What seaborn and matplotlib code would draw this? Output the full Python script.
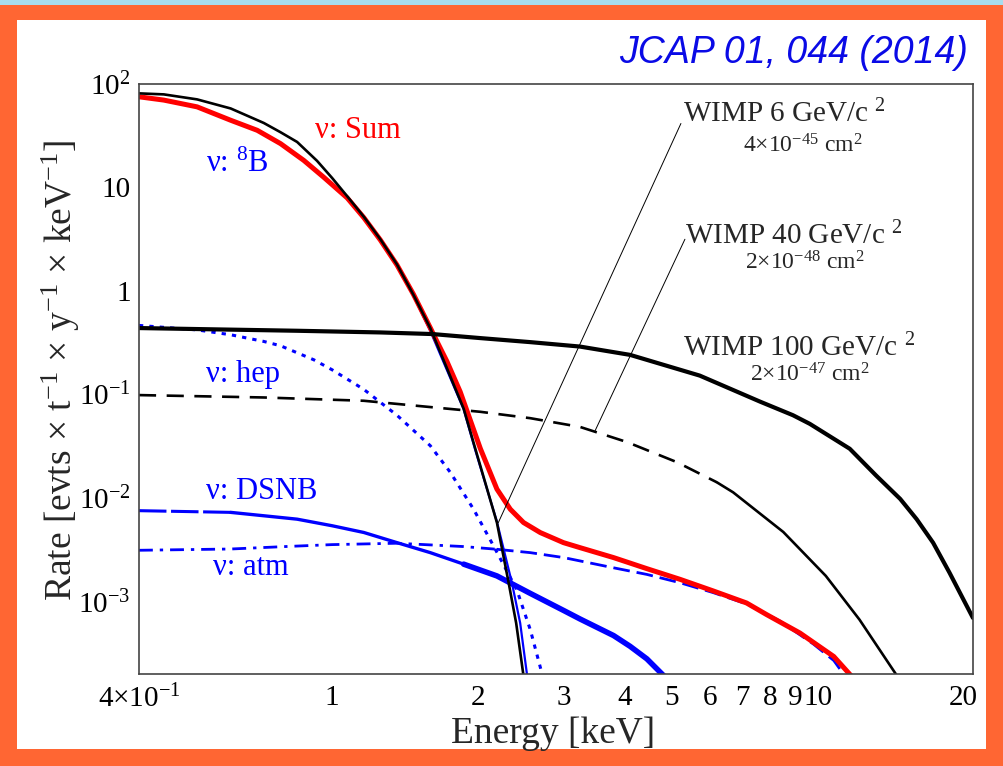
import numpy as np
import pandas as pd
import seaborn as sns
import matplotlib.pyplot as plt
from matplotlib.patches import Rectangle
from matplotlib.ticker import FixedLocator, FixedFormatter, LogLocator, NullFormatter, FuncFormatter

# recoil energy [keV] / rate [evts/t/y/keV]
sum_E = [0.40, 0.45, 0.527, 0.618, 0.701, 0.783, 0.874, 0.961, 1.074, 1.162, 1.257, 1.36, 1.47, 1.593, 1.644,
         1.724, 1.836, 2.02, 2.185, 2.328, 2.479, 2.684, 2.996, 3.24, 3.80, 4.45, 5.21, 6.09, 7.14, 7.85, 9.2,
         10.8, 11.8]
sum_R = [74.8, 69.5, 59.8, 44.4, 35.5, 26.4, 18.2, 12.5, 7.9, 5.1, 3.1, 1.78, 0.93, 0.44, 0.325,
         0.208, 0.106, 0.030, 0.0122, 7.8e-3, 5.8e-3, 4.64e-3, 3.71e-3, 3.32e-3, 2.66e-3, 2.08e-3, 1.64e-3,
         1.27e-3, 9.7e-4, 7.5e-4, 4.97e-4, 2.95e-4, 1.86e-4]

b8_E = [0.40, 0.45, 0.527, 0.618, 0.701, 0.783, 0.874, 0.961, 1.074, 1.162, 1.257, 1.36, 1.47, 1.593, 1.866,
        1.972, 2.185, 2.346, 2.44, 2.523]
b8_R = [74.3, 69.0, 59.4, 44.0, 35.2, 26.1, 18.0, 12.3, 7.8, 5.0, 3.05, 1.75, 0.90, 0.41, 0.072,
        0.029, 5.9e-3, 1.52e-3, 6.2e-4, 1.9e-4]

hep_E = [0.40, 0.527, 0.618, 0.723, 0.783, 0.917, 1.0, 1.162, 1.36, 1.593, 1.75, 1.956, 2.15, 2.40, 2.56, 2.70]
hep_R = [0.464, 0.42, 0.377, 0.325, 0.295, 0.216, 0.173, 0.112, 0.063, 0.032, 0.0178, 7.8e-3, 3.45e-3,
         1.31e-3, 5.35e-4, 2.1e-4]

dsnb_E = [0.40, 0.618, 0.847, 1.0, 1.162, 1.36, 1.593, 1.866, 2.185, 2.56, 3.0, 3.24, 3.80, 4.11, 4.45, 4.89]
dsnb_R = [7.55e-3, 7.27e-3, 6.25e-3, 5.4e-3, 4.65e-3, 3.71e-3, 2.97e-3, 2.3e-3, 1.77e-3, 1.2e-3, 8.2e-4,
          6.8e-4, 4.7e-4, 3.7e-4, 2.8e-4, 1.8e-4]

atm_E = [0.40, 0.618, 0.80, 1.0, 1.36, 1.866, 2.185, 2.56, 3.0, 3.80, 4.45, 5.21, 6.1, 7.14, 8.36, 9.8, 10.8, 11.7]
atm_R = [3.13e-3, 3.22e-3, 3.4e-3, 3.55e-3, 3.66e-3, 3.4e-3, 3.2e-3, 2.97e-3, 2.66e-3, 2.12e-3, 1.83e-3,
         1.52e-3, 1.22e-3, 9.5e-4, 6.5e-4, 3.9e-4, 2.7e-4, 1.6e-4]

w6_E = [0.40, 0.45, 0.527, 0.618, 0.723, 0.783, 0.847, 0.931, 1.0, 1.074, 1.162, 1.257, 1.36, 1.47, 1.593,
        1.866, 1.972, 2.185, 2.31, 2.394, 2.48]
w6_R = [80.7, 78.9, 70.6, 57.7, 41.8, 34.0, 27.4, 18.0, 12.3, 8.2, 5.2, 3.15, 1.80, 0.92, 0.437,
        0.073, 0.030, 5.8e-3, 1.52e-3, 6.2e-4, 1.89e-4]

w40_E = [0.40, 0.723, 1.162, 2.02, 2.56, 3.24, 4.05, 5.13, 6.2, 6.7, 8.5, 10.4, 12.2, 14.6]
w40_R = [0.0986, 0.0935, 0.0869, 0.068, 0.059, 0.0486, 0.0347, 0.0222, 0.0142, 0.01135, 4.7e-3, 1.77e-3,
         6.7e-4, 1.9e-4]
w40_dash_end = 8  # index where the dashed part turns solid

w100_E = [0.40, 0.847, 1.257, 1.61, 2.02, 2.56, 3.24, 4.11, 5.72, 7.61, 8.9, 9.64, 11.65, 13.2, 14.8, 16.0,
          17.3, 18.7, 20.9]
w100_R = [0.4375, 0.412, 0.397, 0.383, 0.35, 0.32, 0.29, 0.241, 0.152, 0.0853, 0.063, 0.052, 0.0299, 0.0165,
          9.8e-3, 6.25e-3, 3.7e-3, 1.9e-3, 6.95e-4]

# leader lines: (label end, point on curve)
lead6 = ([5.23, 2.20], [41.3, 5.8e-3])
lead40 = ([5.33, 3.48], [3.15, 0.0445])

x_ticks = [0.4, 1, 2, 3, 4, 5, 6, 7, 8, 9, 10, 20]
x_labels = ['$4{\\times}10^{-1}$', '1', '2', '3', '4', '5', '6', '7', '8', '9', '10', '20']
y_ticks = [1e-3, 1e-2, 1e-1, 1, 10, 100]
y_labels = ['$10^{-3}$', '$10^{-2}$', '$10^{-1}$', '1', '10', '$10^{2}$']

RED = '#FF0000'
BLUE = '#0000FF'

sns.set_style('white')
plt.rcParams['font.family'] = ['Liberation Serif', 'DejaVu Serif']
plt.rcParams['mathtext.default'] = 'regular'

fig = plt.figure(figsize=(10.04, 7.66), dpi=100, facecolor='#FF6633')
# white slide area and the blue strip above the frame
fig.patches.append(Rectangle((0.017, 0.022), 0.965, 0.952, transform=fig.transFigure,
                             facecolor='white', edgecolor='none', zorder=-5))
fig.patches.append(Rectangle((0, 0.994), 1, 0.006, transform=fig.transFigure,
                             facecolor='#A8DCEE', edgecolor='none', zorder=-5))

ax = fig.add_axes([0.1384, 0.1201, 0.8307, 0.7706])
ax.set_facecolor('white')

kw = dict(ax=ax, sort=False, estimator=None, legend=False)
# neutrino backgrounds
sns.lineplot(x=b8_E, y=b8_R, color=BLUE, linewidth=1.6, **kw)
sns.lineplot(x=hep_E, y=hep_R, color=BLUE, linewidth=2.2, linestyle=(0, (1.4, 2.0)), **kw)
sns.lineplot(x=dsnb_E[:2], y=dsnb_R[:2], color=BLUE, linewidth=2.2, linestyle=(0, (9, 1.5)), **kw)
sns.lineplot(x=dsnb_E[1:8], y=dsnb_R[1:8], color=BLUE, linewidth=2.4, **kw)
sns.lineplot(x=dsnb_E[7:], y=dsnb_R[7:], color=BLUE, linewidth=4.0, **kw)
sns.lineplot(x=atm_E[:7], y=atm_R[:7], color=BLUE, linewidth=2.0, linestyle=(0, (5, 2.5, 1.2, 2.5)), **kw)
sns.lineplot(x=atm_E[6:], y=atm_R[6:], color=BLUE, linewidth=2.0, linestyle=(0, (6, 2.5)), **kw)
sns.lineplot(x=sum_E, y=sum_R, color=RED, linewidth=3.6, **kw)
# WIMP spectra
sns.lineplot(x=w6_E, y=w6_R, color='black', linewidth=1.9, **kw)
sns.lineplot(x=w40_E[:w40_dash_end + 1], y=w40_R[:w40_dash_end + 1], color='black', linewidth=1.9,
             linestyle=(0, (6.5, 4)), **kw)
sns.lineplot(x=w40_E[w40_dash_end:], y=w40_R[w40_dash_end:], color='black', linewidth=1.9, **kw)
sns.lineplot(x=w100_E, y=w100_R, color='black', linewidth=3.0, **kw)
sns.lineplot(x=lead6[0], y=lead6[1], color='black', linewidth=0.7, **kw)
sns.lineplot(x=lead40[0], y=lead40[1], color='black', linewidth=0.7, **kw)

ax.set_xscale('log')
ax.set_yscale('log')
ax.set_xlim(0.4, 20.9)
ax.set_ylim(2e-4, 100)

ax.xaxis.set_major_locator(FixedLocator([1, 10]))
ax.xaxis.set_major_formatter(FixedFormatter(['1', '10']))
minor_x = [0.4, 0.5, 0.6, 0.7, 0.8, 0.9, 2, 3, 4, 5, 6, 7, 8, 9, 20]
ax.xaxis.set_minor_locator(FixedLocator(minor_x))
xl = dict(zip(x_ticks, x_labels))
ax.xaxis.set_minor_formatter(FuncFormatter(lambda v, p: xl.get(round(v, 3), '') if v not in (1, 10) else ''))
ax.yaxis.set_major_locator(FixedLocator(y_ticks))
ax.yaxis.set_major_formatter(FixedFormatter(y_labels))
ax.yaxis.set_minor_locator(LogLocator(base=10, subs=np.arange(2, 10)))
ax.yaxis.set_minor_formatter(NullFormatter())

ax.tick_params(axis='both', which='both', direction='in', colors='#222222', labelcolor='black',
               labelsize=21, top=False, right=False)
ax.tick_params(axis='y', which='major', length=18.7, width=1.0, pad=6)
ax.tick_params(axis='y', which='minor', length=9.4, width=1.0)
ax.tick_params(axis='x', which='major', length=12.2, width=1.0, pad=8)
ax.tick_params(axis='x', which='minor', length=6.5, width=1.0, pad=8)
for s in ax.spines.values():
    s.set_color('#444444')
    s.set_linewidth(1.2)

ax.set_xlabel('Energy [keV]', fontsize=27)
ax.set_ylabel('Rate [evts × t$^{-1}$ × y$^{-1}$ × keV$^{-1}$]', fontsize=27)
ax.xaxis.set_label_coords(0.496, -0.072)
ax.yaxis.set_label_coords(-0.068, 0.514)

# curve labels
ax.text(0.924, 29.7, 'ν: Sum', color=RED, fontsize=22)
ax.text(0.549, 13.9, 'ν: $^{8}$B', color=BLUE, fontsize=22)
ax.text(0.549, 0.133, 'ν: hep', color=BLUE, fontsize=22)
ax.text(0.549, 9.7e-3, 'ν: DSNB', color=BLUE, fontsize=22)
ax.text(0.567, 1.82e-3, 'ν: atm', color=BLUE, fontsize=22)
ax.text(5.28, 42.5, 'WIMP 6 GeV/c $^{2}$', fontsize=21)
ax.text(7.02, 21.7, '4×10$^{-45}$ cm$^{2}$', fontsize=17)
ax.text(5.33, 2.84, 'WIMP 40 GeV/c $^{2}$', fontsize=21)
ax.text(7.09, 1.62, '2×10$^{-48}$ cm$^{2}$', fontsize=17)
ax.text(5.28, 0.232, 'WIMP 100 GeV/c $^{2}$', fontsize=21)
ax.text(7.26, 0.133, '2×10$^{-47}$ cm$^{2}$', fontsize=17)

fig.text(0.964, 0.918, 'JCAP 01, 044 (2014)', color='#0A0AE6', fontsize=27, style='italic',
         family=['Liberation Sans', 'DejaVu Sans'], ha='right', va='baseline')

fig.savefig('out.png', dpi=100, facecolor=fig.get_facecolor())
